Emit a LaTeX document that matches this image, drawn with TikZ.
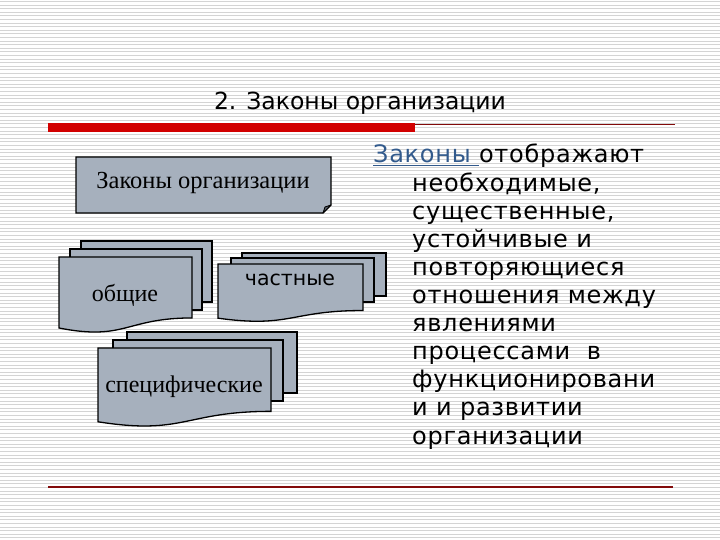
\documentclass[tikz,border=0pt]{standalone}
\usepackage{fontspec}
\setmainfont{Liberation Serif}
\newfontfamily\tahoma{DejaVu Sans}
\newfontfamily\tahomasp[LetterSpace=3]{DejaVu Sans}
\usetikzlibrary{positioning, calc}

\definecolor{docfill}{RGB}{166,176,189}
\definecolor{folddark}{RGB}{90,98,110}
\definecolor{barred}{RGB}{210,0,0}
\definecolor{linered}{RGB}{130,10,10}
\definecolor{linkblue}{RGB}{50,90,140}
\definecolor{stripe}{RGB}{212,212,212}

\tikzset{
  doc/.style={draw=black, fill=docfill, line width=1.3pt, line join=miter},
  seriflabel/.style={font=\fontsize{24}{27}\selectfont, inner sep=0pt},
  bodyline/.style={anchor=base west, inner sep=0pt, font=\tahomasp\fontsize{24}{28}\selectfont}
}

% front page of a document stack: name, left, top, right, height
\newcommand{\wavedoc}[5]{%
  \draw[doc] (#2,#3) -- (#4,#3) -- (#4,{#3+0.802*#5})
    .. controls ({(#2+#4)/2},{#3+0.802*#5}) and ({(#2+#4)/2},{#3+1.107*#5}) .. (#2,{#3+0.934*#5}) -- cycle;
  \coordinate (#1) at ({(#2+#4)/2},{#3+0.45*#5});}

\begin{document}
\begin{tikzpicture}[x=1pt, y=-1pt, line join=round]
  \useasboundingbox (0,0) rectangle (720,540);
  \fill[white] (0,0) rectangle (720,540);
  \foreach \y in {1.5,5.1,...,540} {
    \draw[stripe, line width=0.9pt] (0,\y) -- (720,\y);
  }

  % title and rules
  \node[font=\tahoma\fontsize{23.5}{26}\selectfont] (title) at (360,103) {2. Законы организации};
  \fill[barred] (48,123) rectangle (415,132);
  \draw[linered, line width=0.8pt] (415,124.5) -- (675,124.5);
  \draw[linered, line width=1.2pt] (48,487) -- (673,487);

  % top box with folded corner
  \draw[doc] (76,157) -- (331,157) -- (331,205) -- (323,213) -- (76,213) -- cycle;
  \draw[fill=folddark, line width=0.8pt] (323,213) -- (325,207) -- (331,205) -- cycle;
  \node[seriflabel, font=\fontsize{24.5}{27}\selectfont] (laws) at (203,183) {Законы организации};

  % stacks
  \draw[doc] (81,241) rectangle (212,302);
  \draw[doc] (70,249) rectangle (202,310);
  \wavedoc{general}{59}{257}{192}{76}
  \node[seriflabel] (generaltext) at (125,295) {общие};

  \draw[doc] (242,253) rectangle (386,296);
  \draw[doc] (231,258) rectangle (374,302);
  \wavedoc{partial}{218}{264}{363}{58}
  \node[font=\tahoma\fontsize{20.5}{24}\selectfont, inner sep=0pt] (partialtext) at (290,280) {частные};

  \draw[doc] (127,332) rectangle (297,393);
  \draw[doc] (113,340) rectangle (283,401);
  \wavedoc{specific}{98}{348}{271}{79}
  \node[seriflabel] (specifictext) at (184,387) {специфические};

  % definition text
  \node[bodyline] (lead) at (373,163) {\textcolor{linkblue}{\underline{Законы\ }}отображают};
  \foreach \t [count=\i] in {{необходимые,}, {существенные,}, {устойчивые и}, {повторяющиеся},
      {отношения между}, {явлениями}, {процессами\ \ в}, {функционировани}, {и и развитии}, {организации}} {
    \node[bodyline] (line\i) at (412,{163+28.1*\i}) {\t};
  }
\end{tikzpicture}
\end{document}
